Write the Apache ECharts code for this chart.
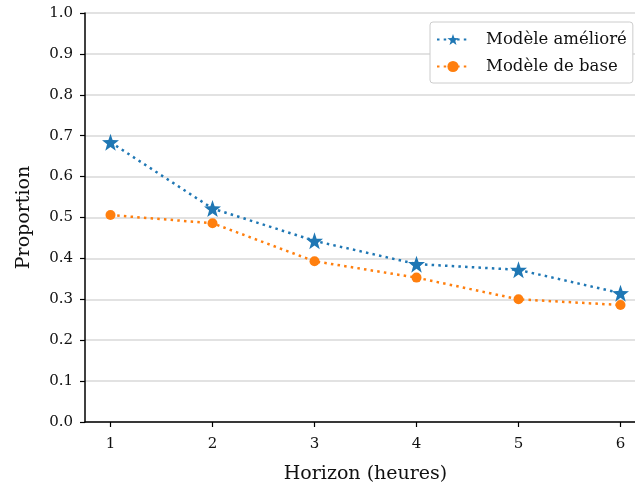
<!DOCTYPE html>
<html><head><meta charset="utf-8">
<script src="https://cdn.jsdelivr.net/npm/echarts@6/dist/echarts.min.js"></script>
<style>html,body{margin:0;padding:0;background:#fff}#c{width:635px;height:488px}</style>
</head><body><div id="c"></div>
<script>
const horizons = [1, 2, 3, 4, 5, 6];
const improved = [0.684, 0.522, 0.443, 0.386, 0.372, 0.315];
const baseline = [0.506, 0.486, 0.393, 0.353, 0.300, 0.286];
const yTicks = [0.0, 0.1, 0.2, 0.3, 0.4, 0.5, 0.6, 0.7, 0.8, 0.9, 1.0];
const FONT = '"DejaVu Serif", "Liberation Serif", serif';
const chart = echarts.init(document.getElementById('c'));
chart.setOption({
  animation: false,
  textStyle: {fontFamily: FONT},
  grid: {left: 85, top: 13, width: 561, height: 409, containLabel: false, outerBoundsMode: 'none'},
  legend: {
    left: 430, top: 22, orient: 'vertical',
    backgroundColor: '#fff', borderColor: '#cccccc', borderWidth: 1, borderRadius: 3,
    padding: [9, 6, 8, 6], itemGap: 10, itemWidth: 32, itemHeight: 14,
    textStyle: {fontFamily: FONT, fontSize: 16.5, color: '#111', padding: [0, 0, 0, 12]},
    data: ['Modèle amélioré', 'Modèle de base']
  },
  xAxis: {
    type: 'value', min: 0.75, max: 6.25,
    name: 'Horizon (heures)', nameLocation: 'middle', nameGap: 43,
    nameTextStyle: {fontFamily: FONT, fontSize: 19, color: '#111'},
    axisLine: {show: true, lineStyle: {color: '#000', width: 1.5}},
    axisTick: {show: true, length: 5, lineStyle: {color: '#000', width: 1.2}, customValues: horizons},
    axisLabel: {fontFamily: FONT, fontSize: 15, color: '#111', margin: 15, customValues: horizons,
      formatter: v => String(v)},
    splitLine: {show: false}
  },
  yAxis: {
    type: 'value', min: 0, max: 1, interval: 0.1,
    name: 'Proportion', nameLocation: 'middle', nameGap: 51,
    nameTextStyle: {fontFamily: FONT, fontSize: 19, color: '#111'},
    axisLine: {show: true, lineStyle: {color: '#000', width: 1.5}},
    axisTick: {show: true, length: 5, lineStyle: {color: '#000', width: 1.2}},
    axisLabel: {fontFamily: FONT, fontSize: 15, color: '#111', margin: 12,
      formatter: v => yTicks.reduce((a, t) => Math.abs(t - v) < Math.abs(a - v) ? t : a).toFixed(1)},
    splitLine: {show: true, lineStyle: {color: '#d9d9d9', width: 1.5}}
  },
  series: [
    {
      name: 'Modèle amélioré', type: 'line',
      data: horizons.map((h, i) => [h, improved[i]]),
      symbol: 'path://M0,-10 L2.35,-3.24 L9.51,-3.09 L3.8,1.24 L5.88,8.09 L0,4 L-5.88,8.09 L-3.8,1.24 L-9.51,-3.09 L-2.35,-3.24 Z',
      symbolSize: 17, showSymbol: true,
      itemStyle: {color: '#1f77b4'},
      lineStyle: {color: '#1f77b4', width: 2.5, type: [2.5, 4.2]}
    },
    {
      name: 'Modèle de base', type: 'line',
      data: horizons.map((h, i) => [h, baseline[i]]),
      symbol: 'circle', symbolSize: 10, showSymbol: true,
      itemStyle: {color: '#ff7f0e'},
      lineStyle: {color: '#ff7f0e', width: 2.5, type: [2.5, 4.2]}
    }
  ]
});
</script></body></html>
